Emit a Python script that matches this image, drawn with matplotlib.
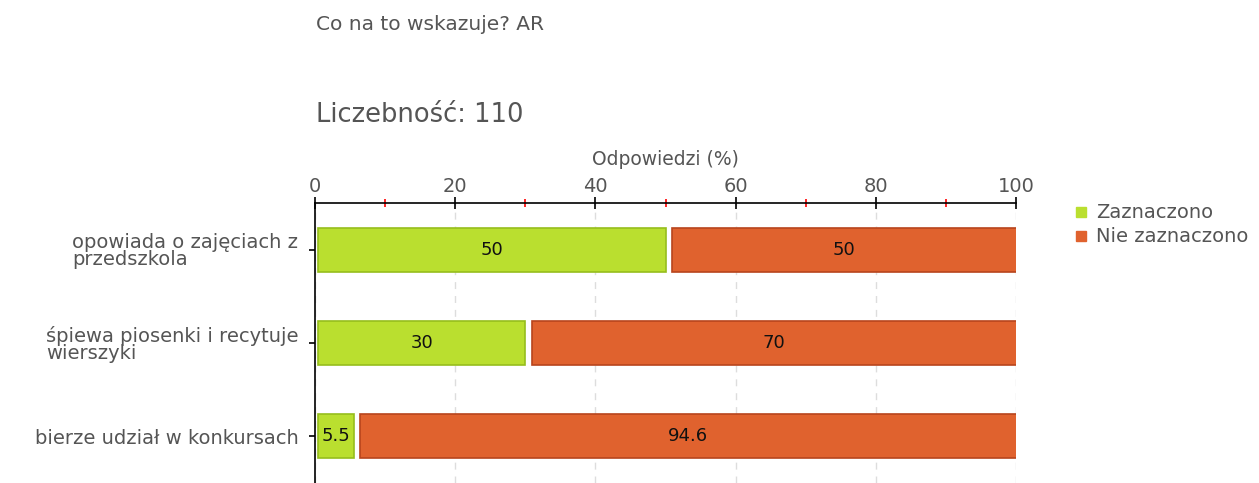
import numpy as np
import matplotlib.pyplot as plt

# Data
categories = ['opowiada o zajęciach z\nprzedszkola',
              'śpiewa piosenki i recytuje\nwierszyki',
              'bierze udział w konkursach']
zaznaczono = [50, 30, 5.5]
nie_zaznaczono = [50, 70, 94.6]
labels_z = ['50', '30', '5.5']
labels_n = ['50', '70', '94.6']

green = '#BADF2F'
green_edge = '#96BE1C'
red = '#E0622E'
red_edge = '#B8441C'
gray = '#555555'

plt.rcParams['font.family'] = ['DejaVu Sans']

fig = plt.figure(figsize=(12.59, 4.83), dpi=100)
ax = fig.add_axes([315 / 1259, 0.0, (1016 - 315) / 1259, 1 - 203 / 483])

y = np.arange(len(categories))
h = 0.47
gap = 0.45
ax.barh(y, np.array(zaznaczono) - gap, left=gap, height=h,
        color=green, edgecolor=green_edge, linewidth=1.2, zorder=3)
ax.barh(y, nie_zaznaczono, left=np.array(zaznaczono) + 0.9, height=h,
        color=red, edgecolor=red_edge, linewidth=1.2, zorder=3)

for i in range(len(categories)):
    ax.text(zaznaczono[i] / 2 + 0.25, y[i], labels_z[i], ha='center', va='center',
            fontsize=13, color='#111111', zorder=4)
    ax.text((zaznaczono[i] + 100) / 2 + 0.5, y[i], labels_n[i], ha='center', va='center',
            fontsize=13, color='#111111', zorder=4)

ax.set_xlim(0, 100)
ax.set_ylim(2.5, -0.5)
ax.xaxis.tick_top()
ax.xaxis.set_label_position('top')
ax.set_xticks([0, 20, 40, 60, 80, 100])
ax.set_xticks([10, 30, 50, 70, 90], minor=True)
ax.tick_params(axis='x', which='major', direction='inout', length=8, width=1.2,
               labelsize=14, labelcolor=gray, pad=1)
ax.tick_params(axis='x', which='minor', direction='inout', length=6, width=1.2,
               color='red')
ax.set_xlabel('Odpowiedzi (%)', fontsize=13.5, color=gray, labelpad=9)

ax.set_yticks(y)
ax.set_yticklabels(categories, multialignment='left', linespacing=0.92)
ax.tick_params(axis='y', direction='out', length=4, width=1.2,
               labelsize=14, labelcolor=gray, pad=8)

ax.grid(axis='x', color='#dddddd', linestyle=(0, (5, 5)), linewidth=1, zorder=0)
for s in ['right', 'bottom']:
    ax.spines[s].set_visible(False)
ax.spines['top'].set_linewidth(1.2)
ax.spines['left'].set_linewidth(1.2)

fig.text(316 / 1259, 1 - 24 / 483, 'Co na to wskazuje? AR', fontsize=14.5,
         color=gray, va='center', ha='left')
fig.text(316 / 1259, 1 - 115 / 483, 'Liczebność: 110', fontsize=18.5,
         color=gray, va='center', ha='left')

# legend
fig.patches.append(plt.Rectangle((1076 / 1259, 1 - 217 / 483), 10 / 1259, 10 / 483,
                                 transform=fig.transFigure, color=green, figure=fig))
fig.patches.append(plt.Rectangle((1076 / 1259, 1 - 241 / 483), 10 / 1259, 10 / 483,
                                 transform=fig.transFigure, color=red, figure=fig))
fig.text(1096 / 1259, 1 - 212 / 483, 'Zaznaczono', fontsize=14, color=gray, va='center')
fig.text(1096 / 1259, 1 - 236 / 483, 'Nie zaznaczono', fontsize=14, color=gray, va='center')

fig.savefig('out.png', dpi=100)
